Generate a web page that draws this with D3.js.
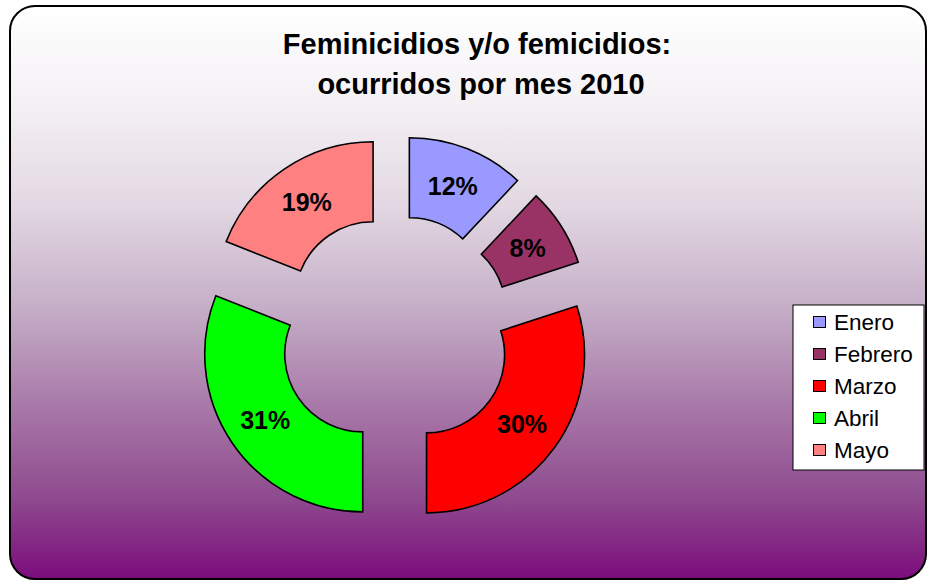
<!DOCTYPE html>
<html>
<head>
<meta charset="utf-8">
<script src="https://cdn.jsdelivr.net/npm/d3@7"></script>
<style>
    body { margin: 0; background: #ffffff; }
    text { font-family: Arial, "Liberation Sans", sans-serif; }
</style>
</head>
<body>
<div id="chart-area" style="width: 928px; height: 582px;"></div>
<script>

// data
const months = ['Enero', 'Febrero', 'Marzo', 'Abril', 'Mayo'];
const percents = [12, 8, 30, 31, 19];
const titleLines = ['Feminicidios y/o femicidios:', 'ocurridos por mes 2010'];

// excel default palette
const monthColors = ['#9999ff', '#993366', '#ff0000', '#00ff00', '#ff8080'];

class DonutVis {

    constructor(parentElement, labels, values) {
        this.parentElement = parentElement;
        this.labels = labels;
        this.values = values;
        this.displayData = [];

        this.initVis();
    }

    initVis() {
        let vis = this;

        vis.width = 928;
        vis.height = 582;

        vis.svg = d3.select('#' + vis.parentElement).append('svg')
            .attr('width', vis.width)
            .attr('height', vis.height);

        // background gradient, white -> purple
        let grad = vis.svg.append('defs').append('linearGradient')
            .attr('id', 'bg-grad')
            .attr('x1', 0).attr('y1', 0).attr('x2', 0).attr('y2', 1);
        [[0, '#ffffff'], [0.17, '#f4f1f4'], [0.35, '#e2d7e2'], [0.52, '#c6b0c8'],
         [0.7, '#a878a8'], [0.86, '#8e4a8e'], [1, '#7c0c7c']].forEach(s => {
            grad.append('stop').attr('offset', s[0]).attr('stop-color', s[1]);
        });

        vis.svg.append('rect')
            .attr('x', 10).attr('y', 6)
            .attr('width', 916).attr('height', 573)
            .attr('rx', 25).attr('ry', 25)
            .attr('fill', 'url(#bg-grad)')
            .attr('stroke', '#000')
            .attr('stroke-width', 2);

        // title (second line sits a little to the right in the original)
        vis.svg.selectAll('.title-line')
            .data(titleLines)
            .enter().append('text')
            .attr('class', 'title-line')
            .attr('x', (d, i) => i === 0 ? 477 : 481)
            .attr('y', (d, i) => 54 + i * 40)
            .attr('text-anchor', 'middle')
            .style('font-size', '29px')
            .style('font-weight', 'bold')
            .text(d => d);

        vis.color = d3.scaleOrdinal().domain(vis.labels).range(monthColors);

        vis.center = {x: 395, y: 332};
        vis.outerR = 158;
        vis.innerR = 78;
        vis.explode = 39;

        vis.g = vis.svg.append('g')
            .attr('transform', `translate(${vis.center.x}, ${vis.center.y})`);

        vis.wrangleData();
    }

    wrangleData() {
        let vis = this;

        vis.displayData = vis.labels.map((m, i) => ({month: m, value: vis.values[i]}));

        vis.updateVis();
    }

    updateVis() {
        let vis = this;

        let pie = d3.pie().sort(null).value(d => d.value);
        let arc = d3.arc().innerRadius(vis.innerR).outerRadius(vis.outerR);

        let slices = vis.g.selectAll('.slice')
            .data(pie(vis.displayData))
            .enter().append('g')
            .attr('class', 'slice')
            .attr('transform', d => {
                let a = (d.startAngle + d.endAngle) / 2;
                return `translate(${vis.explode * Math.sin(a)}, ${-vis.explode * Math.cos(a)})`;
            });

        slices.append('path')
            .attr('d', arc)
            .attr('fill', d => vis.color(d.data.month))
            .attr('stroke', '#000')
            .attr('stroke-width', 1.6)
            .attr('stroke-linejoin', 'miter');

        slices.append('text')
            .attr('transform', d => `translate(${arc.centroid(d)})`)
            .attr('text-anchor', 'middle')
            .attr('dy', '0.36em')
            .style('font-size', '25px')
            .style('font-weight', 'bold')
            .text(d => d.data.value + '%');

        // legend
        let legend = vis.svg.append('g')
            .attr('transform', 'translate(793, 305)');

        legend.append('rect')
            .attr('width', 131).attr('height', 165)
            .attr('fill', '#fff')
            .attr('stroke', '#000')
            .attr('stroke-width', 1);

        let items = legend.selectAll('.legend-item')
            .data(vis.labels)
            .enter().append('g')
            .attr('class', 'legend-item')
            .attr('transform', (d, i) => `translate(0, ${17 + i * 32})`);

        items.append('rect')
            .attr('x', 20.5).attr('y', -5.5)
            .attr('width', 12).attr('height', 11)
            .attr('fill', d => vis.color(d))
            .attr('stroke', '#000')
            .attr('stroke-width', 1);

        items.append('text')
            .attr('x', 41)
            .attr('dy', '0.36em')
            .style('font-size', '22.5px')
            .text(d => d);
    }
}

new DonutVis('chart-area', months, percents);

</script>
</body>
</html>
